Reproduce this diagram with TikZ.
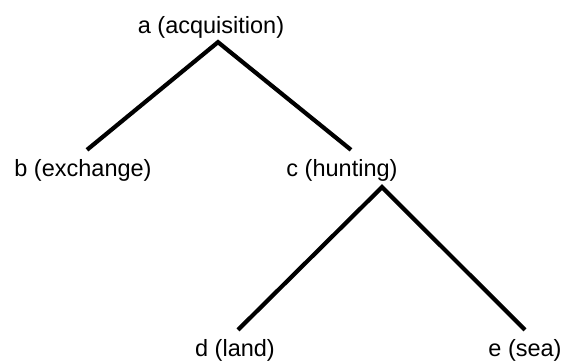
\documentclass[tikz,border=0pt]{standalone}
\usepackage{fontspec}
\setmainfont{Liberation Sans}
\usepackage{tikz}
\usetikzlibrary{positioning, calc}
\tikzset{
	term/.style={inner sep=0pt, font=\fontsize{23.5}{28}\selectfont},
	branch/.style={line width=4.2pt, line join=miter},
}

\begin{document}
\begin{tikzpicture}[x=1pt, y=-1pt]
	\useasboundingbox (0,0) rectangle (568,362);
	% tree labels
	\node[term] (a) at (211,27) {a (acquisition)};
	\node[term] (b) at (83,170) {b (exchange)};
	\node[term] (c) at (342,170) {c (hunting)};
	\node[term] (d) at (235,350) {d (land)};
	\node[term] (e) at (525,350) {e (sea)};
	% branches
	\draw[branch] ([shift={(4pt,9pt)}]b.north) -- ([shift={(7pt,-4pt)}]a.south) -- ([shift={(9pt,9pt)}]c.north);
	\draw[branch] ([shift={(3pt,9pt)}]d.north) -- ([shift={(40pt,-6pt)}]c.south) -- ([shift={(0pt,9pt)}]e.north);
\end{tikzpicture}
\end{document}
